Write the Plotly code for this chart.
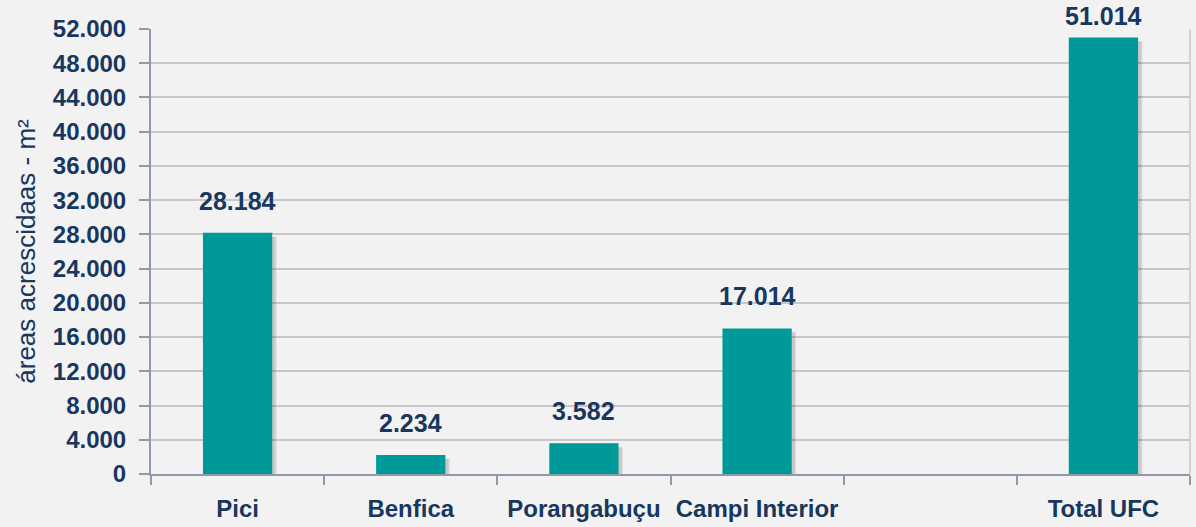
import plotly.graph_objects as go

categories = ["Pici", "Benfica", "Porangabuçu", "Campi Interior", " ", "Total UFC"]
values = [28184, 2234, 3582, 17014, None, 51014]
y_ticks = list(range(0, 52001, 4000))
y_title = "áreas acrescidaas - m²"

NAVY = "#17375E"
TEAL = "#009999"
FONT = "Liberation Sans, Arial, sans-serif"

fig = go.Figure()

# soft shadow layers (derived from the data)
shadow_vals = [None if v is None else v - 450 for v in values]
for i, a in enumerate([0.10, 0.08]):
    fig.add_trace(go.Bar(
        x=categories, y=shadow_vals, width=0.4, offset=-0.2 + 0.018 + 0.008 * i,
        marker=dict(color=f"rgba(0,0,0,{a})", line=dict(width=0)),
        hoverinfo="skip", showlegend=False,
    ))

fig.add_trace(go.Bar(
    x=categories, y=values, width=0.4, offset=-0.2,
    marker=dict(color=TEAL, line=dict(width=0)),
    showlegend=False,
))

for c, v in zip(categories, values):
    if v is None:
        continue
    shift = 16 if v < 48000 else 5
    fig.add_annotation(
        x=c, y=v, yref="y", text=f"{v:,}".replace(",", "."),
        showarrow=False, yanchor="bottom", yshift=shift,
        font=dict(family=FONT, size=25, color=NAVY, weight="bold"),
    )

fig.add_shape(type="line", xref="paper", yref="paper", x0=1, x1=1, y0=0, y1=1,
              line=dict(color="#C8C8C8", width=1.5))

fig.update_layout(
    width=1196, height=527,
    margin=dict(l=151, r=6, t=29, b=53),
    paper_bgcolor="#F2F2F2", plot_bgcolor="#F2F2F2",
    barmode="overlay",
    separators=",.",
    font=dict(family=FONT, color=NAVY),
    xaxis=dict(
        type="category", tickson="boundaries", ticks="outside", ticklen=9,
        tickcolor="#8E99AB", tickwidth=2, tickangle=0, automargin=False,
        showline=True, linecolor="#8E99AB", linewidth=2,
        showgrid=False, ticklabelstandoff=12,
        tickfont=dict(family=FONT, size=24, color=NAVY, weight="bold"),
        range=[-0.5, 5.5],
    ),
    yaxis=dict(
        range=[0, 52000], tickvals=y_ticks, tickformat=",d", automargin=False,
        ticks="outside", ticklen=10, tickcolor="#8E99AB", tickwidth=2,
        showline=True, linecolor="#8E99AB", linewidth=2,
        gridcolor="#C8C8C8", gridwidth=1.5, zeroline=False,
        tickfont=dict(family=FONT, size=24, color=NAVY, weight="bold"),
        title=dict(text=y_title, font=dict(family=FONT, size=26, color=NAVY), standoff=10),
        ticklabelstandoff=8,
    ),
)

fig.write_html("out.html")
